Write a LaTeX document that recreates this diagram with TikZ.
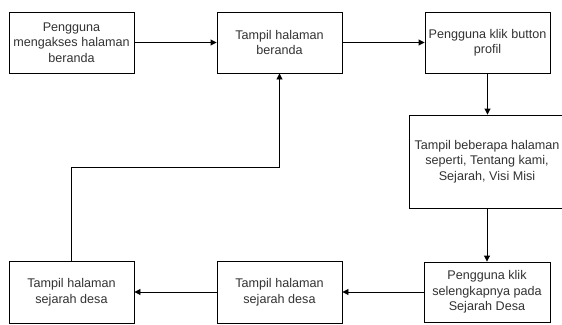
\documentclass[tikz,border=0pt]{standalone}
\usepackage{fontspec}
\setmainfont{Liberation Sans}
\usetikzlibrary{arrows.meta}
\begin{document}
\begin{tikzpicture}[x=1pt,y=-1pt,
  box/.style={draw=black, line width=0.9pt, fill=white, align=center, inner sep=0pt,
    font=\fontsize{12.6}{15.5}\selectfont, text=black!80},
  conn/.style={line width=0.9pt, -{Triangle[length=6pt,width=6pt]}}]
\useasboundingbox (0,0) rectangle (562,324);
\node[box, minimum width=125pt, minimum height=61pt] (b1) at (71.5,42.5) {Pengguna\\mengakses halaman\\beranda};
\node[box, minimum width=125pt, minimum height=61pt] (b2) at (279.5,42.5) {Tampil halaman\\beranda};
\node[box, minimum width=125pt, minimum height=61pt] (b3) at (487.5,42.5) {Pengguna klik button\\profil};
\node[box, minimum width=156pt, minimum height=93pt] (b4) at (487,161.5) {Tampil beberapa halaman\\seperti, Tentang kami,\\Sejarah, Visi Misi};
\node[box, minimum width=126pt, minimum height=60pt] (b5) at (487,292) {Pengguna klik\\selengkapnya pada\\Sejarah Desa};
\node[box, minimum width=125pt, minimum height=62pt] (b7) at (279.5,292) {Tampil halaman\\sejarah desa};
\node[box, minimum width=125pt, minimum height=62pt] (b6) at (71.5,292) {Tampil halaman\\sejarah desa};
\draw[conn] (b1) -- (b2);
\draw[conn] (b2) -- (b3);
\draw[conn] (b3.south) -- (b3.south |- b4.north);
\draw[conn] (b4.south) -- (b5.north);
\draw[conn] (b5) -- (b7);
\draw[conn] (b7) -- (b6);
\coordinate (c1) at (71.5,167);
\draw[conn] (b6.north) -- (c1) -| (b2.south);
\end{tikzpicture}
\end{document}
